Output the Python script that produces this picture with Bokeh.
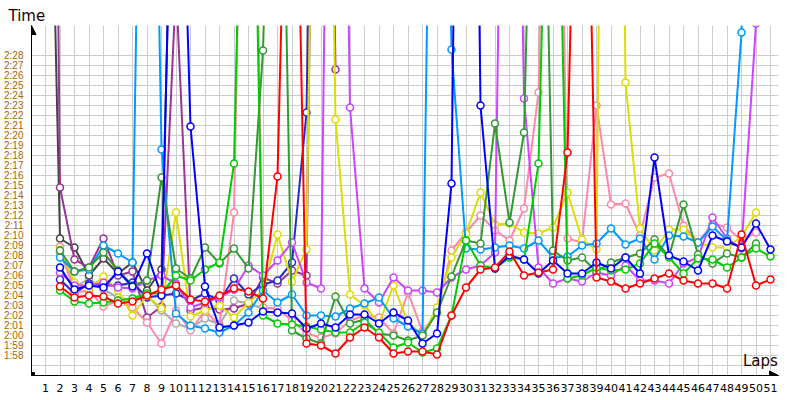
import math
from bokeh.plotting import figure
from bokeh.models import FixedTicker, Label, Arrow, NormalHead
from bokeh.embed import file_html
from bokeh.resources import INLINE

laps = list(range(1, 52))
N = None

red = [N, 124.9, 123.8, 124.0, 123.9, 123.2, 123.4, 124.0, 124.6, 125.0,
       123.6, 123.4, 124.0, 124.7, 124.4, 123.7, 135.9, 195, 119.2, 119.0,
       118.2, 119.8, 120.8, 119.8, 118.2, 118.4, 118.4, 118.1, 122.0, 124.8,
       126.6, 126.8, 128.4, 126.0, 126.3, 126.6, 138.3, 200, 125.8, 125.4,
       124.7, 125.2, 125.7, 126.2, 125.5, 125.2, 125.2, 124.7, 130.1, 125.0, 125.6]
green = [N, 124.5, 123.4, 123.2, 123.3, 123.5, 123.7, 124.2, 124.2, 126.0,
         125.5, 126.6, 127.3, 137.2, 200, 122.0, 121.2, 121.1, 120.9, 120.6,
         120.3, 120.3, 121.3, 120.3, 118.8, 119.3, 118.3, 118.7, 122.0, 129.5,
         127.0, 126.7, 127.8, 127.6, 137.2, 195, 125.7, 126.0, 126.8, 126.5,
         126.6, 127.2, 129.2, 127.8, 126.2, 127.7, 127.6, 126.8, 127.8, 128.7, 127.9]
darkgreen = [N, 128.5, 126.4, 126.8, 128.3, 126.5, 125.0, 125.5, 135.8, 126.7,
             125.7, 128.8, 127.2, 128.7, 126.7, 148.5, 200, 120.5, 119.7, 119.2,
             123.9, 121.2, 121.6, 120.2, 120.0, 119.5, 120.0, 122.3, 125.9, 129.5,
             129.2, 141.2, 131.3, 140.3, 200, 128.5, 127.5, 127.8, 126.4, 127.3,
             127.8, 128.2, 129.6, 127.9, 133.1, 128.1, 127.2, 128.2, 127.8, 129.2, N]
blue = [N, 126.8, 124.6, 125.0, 124.8, 126.4, 124.9, 128.2, 124.0, 190,
        140.9, 124.9, 120.8, 121.0, 121.3, 122.4, 122.3, 122.2, 120.7, 121.2,
        120.8, 122.1, 122.1, 121.2, 122.3, 121.5, 119.2, 120.2, 135.2, 260,
        143.0, 126.7, 128.0, 127.6, 126.2, 127.5, 126.2, 126.2, 127.3, 126.7,
        127.8, 126.2, 137.8, 128.0, 127.4, 126.5, 130.0, 129.4, 128.8, 131.2, 128.6]
lightblue = [N, 127.8, 126.4, 126.6, 129.0, 128.2, 127.3, 220, 138.6, 122.2,
             121.0, 120.7, 120.3, 121.0, 122.3, 124.5, 123.3, 124.1, 122.0, 122.0,
             121.9, 122.7, 123.2, 123.8, 121.7, 120.9, 120.2, 220, 148.6, 128.7,
             128.6, 128.8, 129.0, 128.7, 129.5, 127.8, 127.9, 129.0, 129.2, 130.7,
             129.1, 129.7, 127.6, 130.0, 129.9, 129.3, 130.9, 129.5, 150.3, 250, N]
violet = [N, 126.3, 125.0, 125.0, 125.3, 124.8, 124.7, 125.5, 126.0, 125.2,
          122.8, 123.3, 123.8, 124.6, 127.0, 126.0, 127.5, 129.3, 125.3, 124.7,
          240, 142.8, 124.7, 123.3, 125.8, 124.5, 124.5, 124.3, 125.8, 126.6,
          127.0, 128.3, 230, 143.7, 126.8, 125.2, 125.7, 125.4, 126.3, 126.0,
          127.0, 125.5, 125.5, 125.2, 127.2, 127.8, 131.8, 129.7, 128.7, 151.2, N]
pink = [N, 128.9, 124.3, 124.5, 122.9, 123.5, 122.8, 121.3, 119.2, 122.5,
        120.5, 122.5, 121.0, 132.3, 210, 122.8, 122.7, 121.5, 120.2, 119.8,
        120.2, 121.5, 122.0, 121.8, 120.2, 124.3, 120.4, 122.3, 128.5, 130.3,
        132.0, 130.5, 129.5, 132.7, 144.3, 220, 129.7, 129.3, 143.0, 133.1,
        133.2, 130.0, 135.8, 136.2, 131.0, 129.3, 131.2, 130.8, 129.5, 130.3, N]
yellow = [N, 128.6, 125.3, 124.7, 125.9, 124.5, 122.0, 124.0, 122.7, 132.3,
          121.9, 122.5, 123.0, 121.8, 123.3, 124.5, 130.1, 125.4, 128.6, 230,
          141.6, 124.1, 123.0, 121.2, 125.0, 121.3, 120.0, 122.8, 127.8, 130.2,
          134.3, 131.1, 131.2, 130.3, 130.2, 130.8, 134.3, 129.6, 128.6, 280,
          145.3, 130.7, 128.5, 130.6, 130.6, 129.3, 128.8, 128.8, 129.9, 132.3, N]
purple = [280, 134.8, 127.6, 126.8, 129.7, 126.0, 126.4, 121.8, 122.9, 155,
          122.5, 122.8, 122.6, 122.7, 123.2, 125.8, 125.2, 126.5, 126.0, 240,
          146.6] + [N] * 30
gray = [N, 128.3, 124.8, 125.7, 124.6, 123.8, 123.5, 124.0, 122.5, 121.2,
        120.7, 121.7, 121.1, 123.5, 123.2, 122.7, 122.7] + [N] * 34
darkgray = [195, 129.7, 128.8, 126.0, 127.7, 126.2, 127.3, 124.5, 126.6, 185] + [N] * 41
navy = [N, 125.6, 124.2, 125.2, 125.0, 125.0, 125.3, 123.8, 124.0, 124.2,
        123.5, 124.2, 123.5, 125.7, 124.1, 125.1, 125.5, 127.3, 142.3, 230] + [N] * 31

series = [
    ("#aaaaaa", gray), ("#444444", darkgray), ("#993399", purple),
    ("#2a2acc", navy), ("#ff88aa", pink), ("#dddd00", yellow),
    ("#cc44ff", violet), ("#0099ff", lightblue), ("#339933", darkgreen),
    ("#00cc00", green), ("#0000ff", blue), ("#ff0000", red),
]

def nz(v):
    return float("nan") if v is None else v

x0, x1 = 0.0345, 51.55
y0, y1 = 116, 151

p = figure(width=800, height=400, output_backend="svg", toolbar_location=None,
           x_range=(x0, x1), y_range=(y0, y1),
           min_border_left=31, min_border_right=22, min_border_top=25, min_border_bottom=25)
p.outline_line_color = None
p.background_fill_color = "white"
p.border_fill_color = "white"

p.title.text = "Time"
p.title.align = "left"
p.title.offset = -23
p.title.standoff = 2
p.title.text_font = "DejaVu Sans"
p.title.text_font_size = "15px"
p.title.text_font_style = "normal"
p.title.text_color = "#220000"

ticks_y = list(range(116, 149))
p.yaxis.ticker = FixedTicker(ticks=ticks_y)
p.yaxis.major_label_overrides = {t: (f"{t // 60}:{t % 60:02d}" if 118 <= t <= 148 else "") for t in ticks_y}
p.xaxis.ticker = FixedTicker(ticks=laps)
p.xaxis.major_label_overrides = {l: str(l) for l in laps}

for ax in (p.xaxis, p.yaxis):
    ax.axis_line_color = "black"
    ax.axis_line_width = 1
    ax.major_tick_line_color = None
    ax.minor_tick_line_color = None
    ax.major_tick_out = 0
    ax.major_tick_in = 0

p.yaxis.major_label_text_font = "Liberation Sans"
p.yaxis.major_label_text_font_size = "10px"
p.yaxis.major_label_text_color = "#a86400"
p.yaxis.major_label_standoff = 8
p.xaxis.major_label_text_font = "DejaVu Sans"
p.xaxis.major_label_text_font_size = "11px"
p.xaxis.major_label_text_color = "black"
p.xaxis.major_label_standoff = 8

p.xgrid.grid_line_color = "#cccccc"
p.ygrid.grid_line_color = "#cccccc"
p.xgrid.grid_line_width = 1
p.ygrid.grid_line_width = 1

for color, vals in series:
    ys = [nz(v) for v in vals]
    p.line(laps, ys, line_color=color, line_width=2)
    p.scatter(laps, ys, size=7, marker="circle", fill_color="white",
              line_color=color, line_width=1.5)

p.add_layout(Arrow(end=NormalHead(size=9, fill_color="black", line_color="black"),
                   x_start=x0, y_start=y0, x_end=x0, y_end=y1,
                   line_color="black", line_width=1))
p.add_layout(Arrow(end=NormalHead(size=9, fill_color="black", line_color="black"),
                   x_start=x0, y_start=y0, x_end=x1, y_end=y0,
                   line_color="black", line_width=1))
p.scatter([x0], [y0], size=6, marker="square", fill_color="black", line_color="black")

p.add_layout(Label(x=49.1, y=116.6, text="Laps", text_font="DejaVu Sans",
                   text_font_size="15px", text_color="#220000"))

open("out.html", "w").write(file_html(p, INLINE))
